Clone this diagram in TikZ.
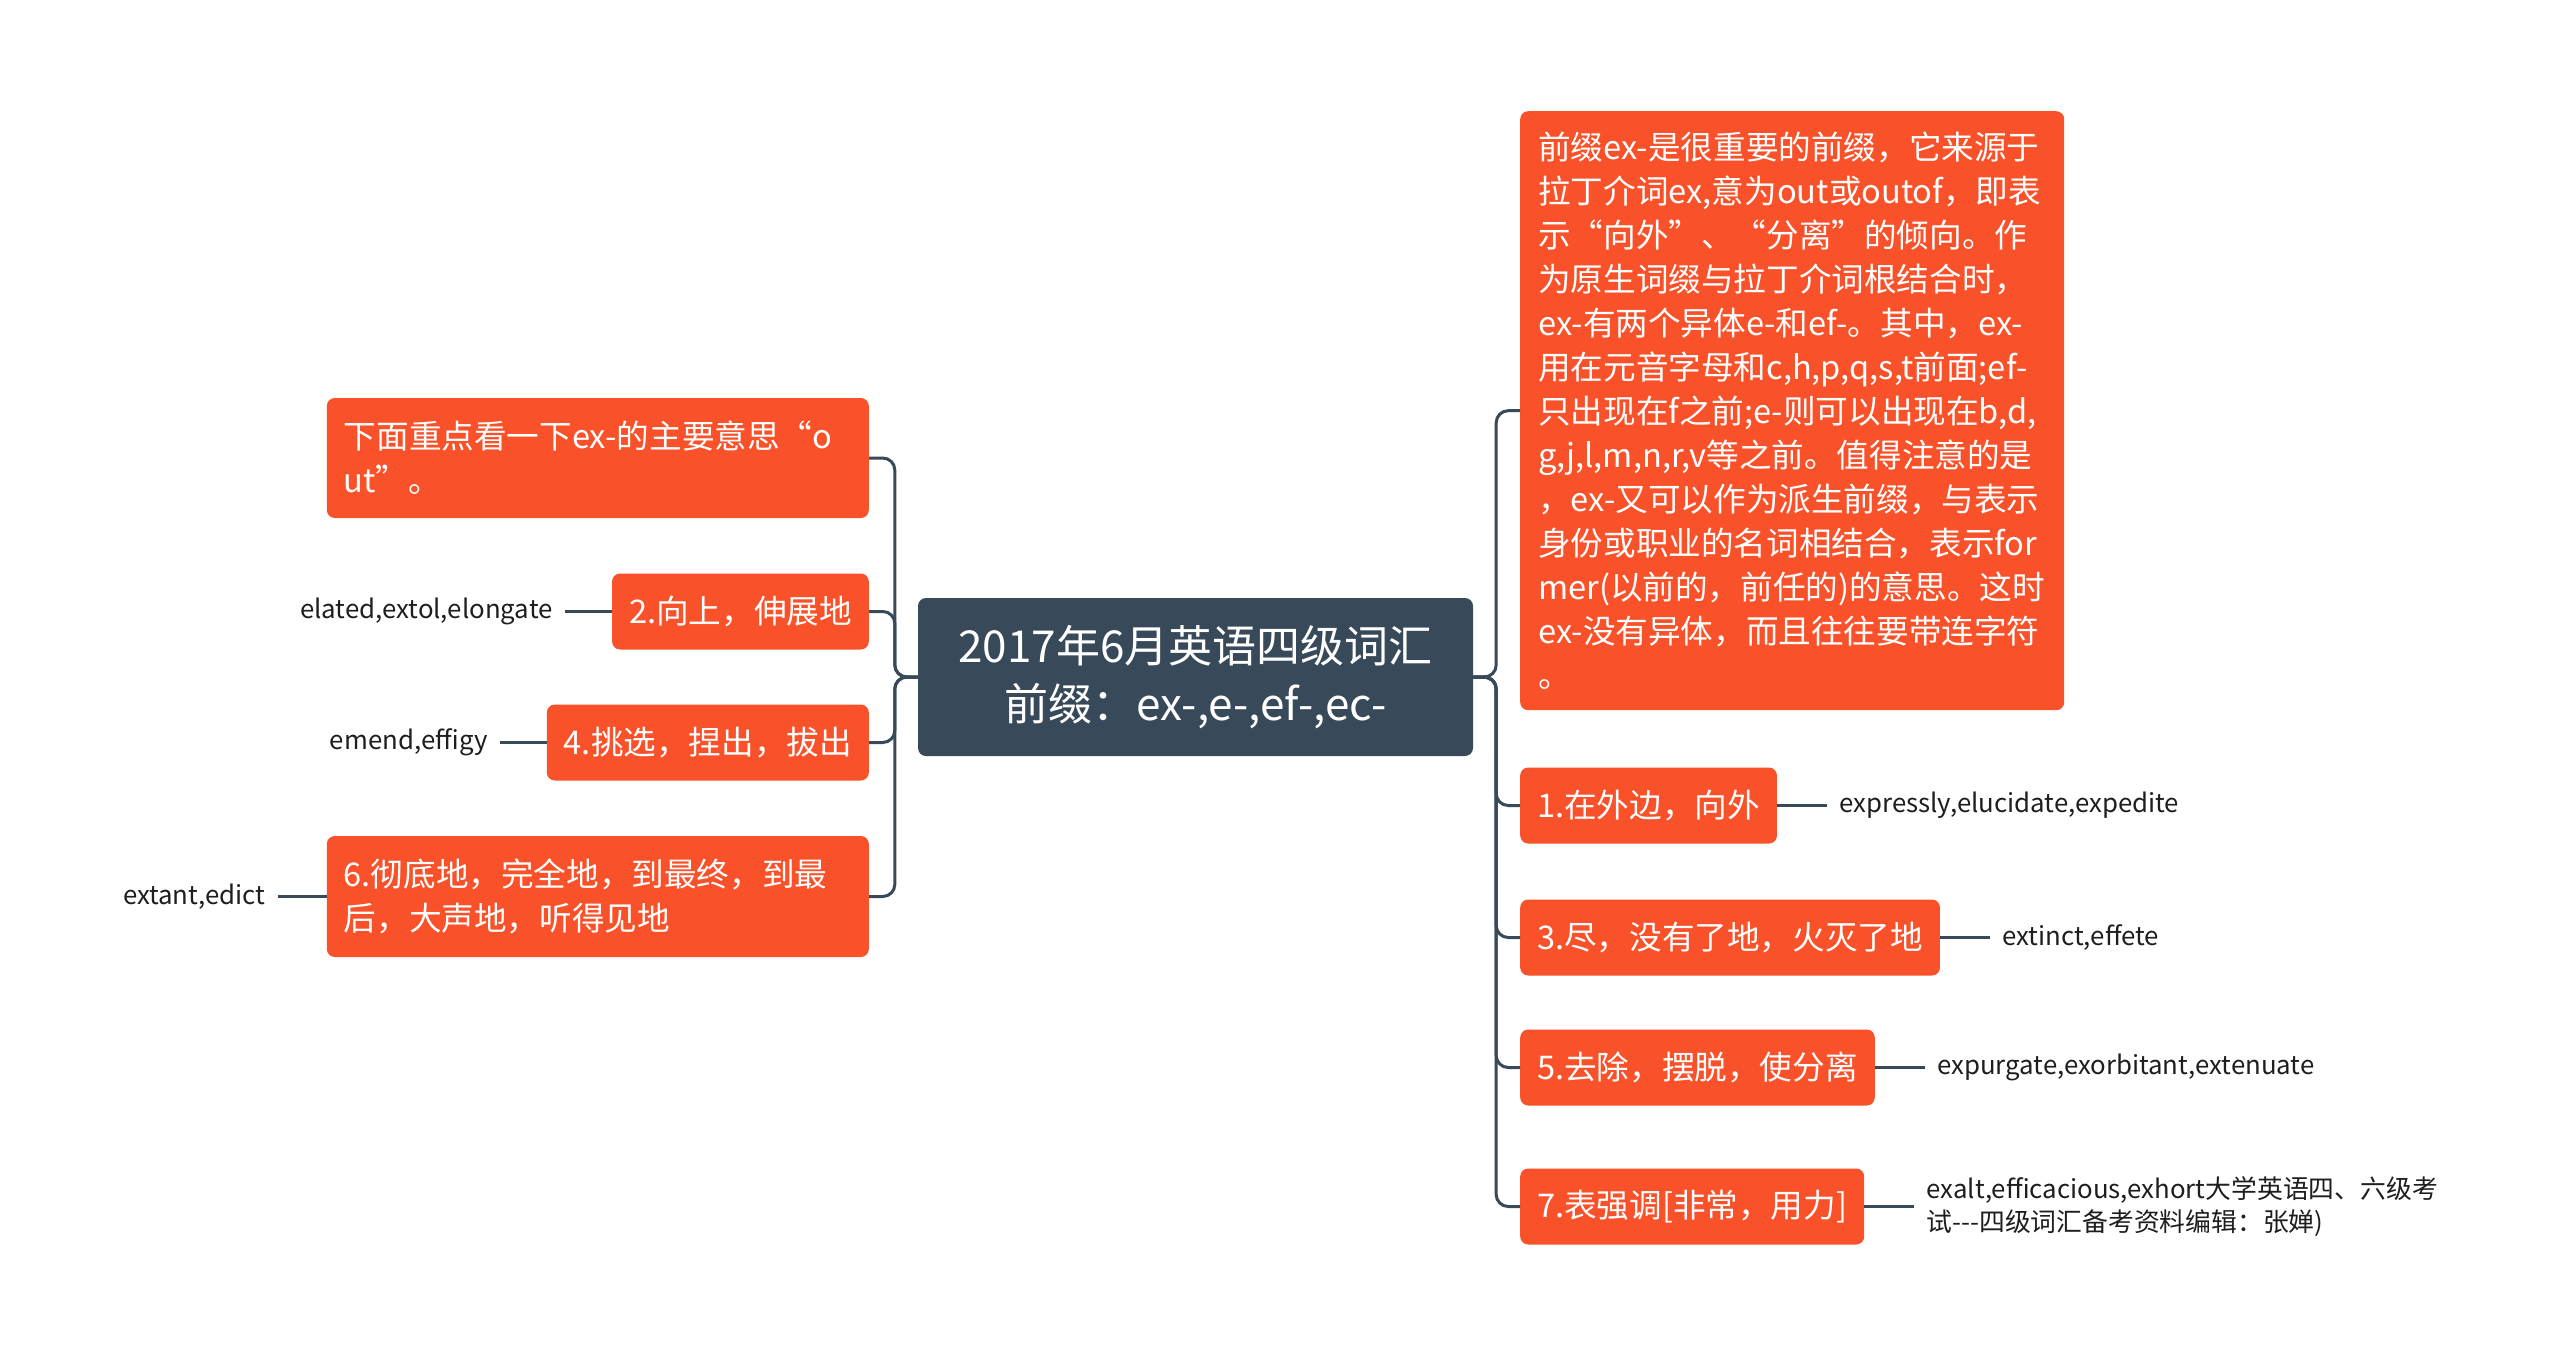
\documentclass[tikz,border=0pt]{standalone}
\usepackage{fontspec}
\setmainfont{Noto Sans CJK SC}
\definecolor{boxred}{RGB}{249,81,41}
\definecolor{rootgray}{RGB}{56,74,89}
\definecolor{linkcol}{RGB}{56,74,89}
\definecolor{leafcol}{RGB}{30,30,30}
\tikzset{
  box/.style={fill=boxred, rounded corners=8pt, text=white, font=\fontsize{32.6}{44}\selectfont, inner xsep=17pt, inner ysep=0pt, minimum height=76pt, align=left},
  root/.style={fill=rootgray, rounded corners=8pt, text=white, font=\fontsize{44}{58}\selectfont, minimum width=555pt, minimum height=158pt, align=center},
  leaf/.style={text=leafcol, font=\fontsize{25.8}{33}\selectfont, inner xsep=12pt, inner ysep=0pt, align=left},
  link/.style={draw=linkcol, line width=3pt, rounded corners=12pt},
  leaflink/.style={draw=linkcol, line width=3pt},
}
\begin{document}
\begin{tikzpicture}[x=1pt,y=-1pt]
\useasboundingbox (0,0) rectangle (2560,1363);
\fill[white] (0,0) rectangle (2560,1363);

\node[root] (c) at (1195.5,677) {2017年6月英语四级词汇\\前缀：ex-,e-,ef-,ec-};

% right side
\node[box, anchor=north west, text width=508pt, inner xsep=18pt, minimum height=599pt] (r0) at (1520,111) {前缀ex-是很重要的前缀，它来源于\\拉丁介词ex,意为out或outof，即表\\示“向外”、“分离”的倾向。作\\为原生词缀与拉丁介词根结合时，\\ex-有两个异体e-和ef-。其中，ex-\\用在元音字母和c,h,p,q,s,t前面;ef-\\只出现在f之前;e-则可以出现在b,d,\\g,j,l,m,n,r,v等之前。值得注意的是\\，ex-又可以作为派生前缀，与表示\\身份或职业的名词相结合，表示for\\mer(以前的，前任的)的意思。这时\\ex-没有异体，而且往往要带连字符\\。};
\node[box, anchor=west] (r1) at (1520,805.5) {1.在外边，向外};
\node[box, anchor=west] (r3) at (1520,937.5) {3.尽，没有了地，火灭了地};
\node[box, anchor=west] (r5) at (1520,1067.5) {5.去除，摆脱，使分离};
\node[box, anchor=west] (r7) at (1520,1206.5) {7.表强调[非常，用力]};

\node[leaf, anchor=west] (e1) at ([xshift=50pt]r1.east) {expressly,elucidate,expedite};
\node[leaf, anchor=west] (e3) at ([xshift=50pt]r3.east) {extinct,effete};
\node[leaf, anchor=west] (e5) at ([xshift=50pt]r5.east) {expurgate,exorbitant,extenuate};
\node[leaf, anchor=west] (e7) at ([xshift=50pt]r7.east) {exalt,efficacious,exhort大学英语四、六级考\\试{-}{-}{-}四级词汇备考资料编辑：张婵)};

% left side
\node[box, anchor=east, text width=508pt, minimum height=120pt] (l0) at (869,458) {下面重点看一下ex-的主要意思“o\\ut”。};
\node[box, anchor=east] (l2) at (869,611.5) {2.向上，伸展地};
\node[box, anchor=east] (l4) at (869,742.5) {4.挑选，捏出，拔出};
\node[box, anchor=east, text width=508pt, minimum height=121pt] (l6) at (869,896.5) {6.彻底地，完全地，到最终，到最\\后，大声地，听得见地};

\node[leaf, anchor=east] (f2) at ([xshift=-47pt]l2.west) {elated,extol,elongate};
\node[leaf, anchor=east] (f4) at ([xshift=-47pt]l4.west) {emend,effigy};
\node[leaf, anchor=east] (f6) at ([xshift=-49pt]l6.west) {extant,edict};

% connectors
\foreach \n in {r0,r1,r3,r5,r7} {
  \draw[link] (c.east) -- ++(23,0) |- (\n.west);
}
\foreach \n in {l0,l2,l4,l6} {
  \draw[link] (c.west) -- ++(-23,0) |- (\n.east);
}
\draw[leaflink] (r1.east) -- (e1.west);
\draw[leaflink] (r3.east) -- (e3.west);
\draw[leaflink] (r5.east) -- (e5.west);
\draw[leaflink] (r7.east) -- (e7.west);
\draw[leaflink] (l2.west) -- (f2.east);
\draw[leaflink] (l4.west) -- (f4.east);
\draw[leaflink] (l6.west) -- (f6.east);
\end{tikzpicture}
\end{document}
